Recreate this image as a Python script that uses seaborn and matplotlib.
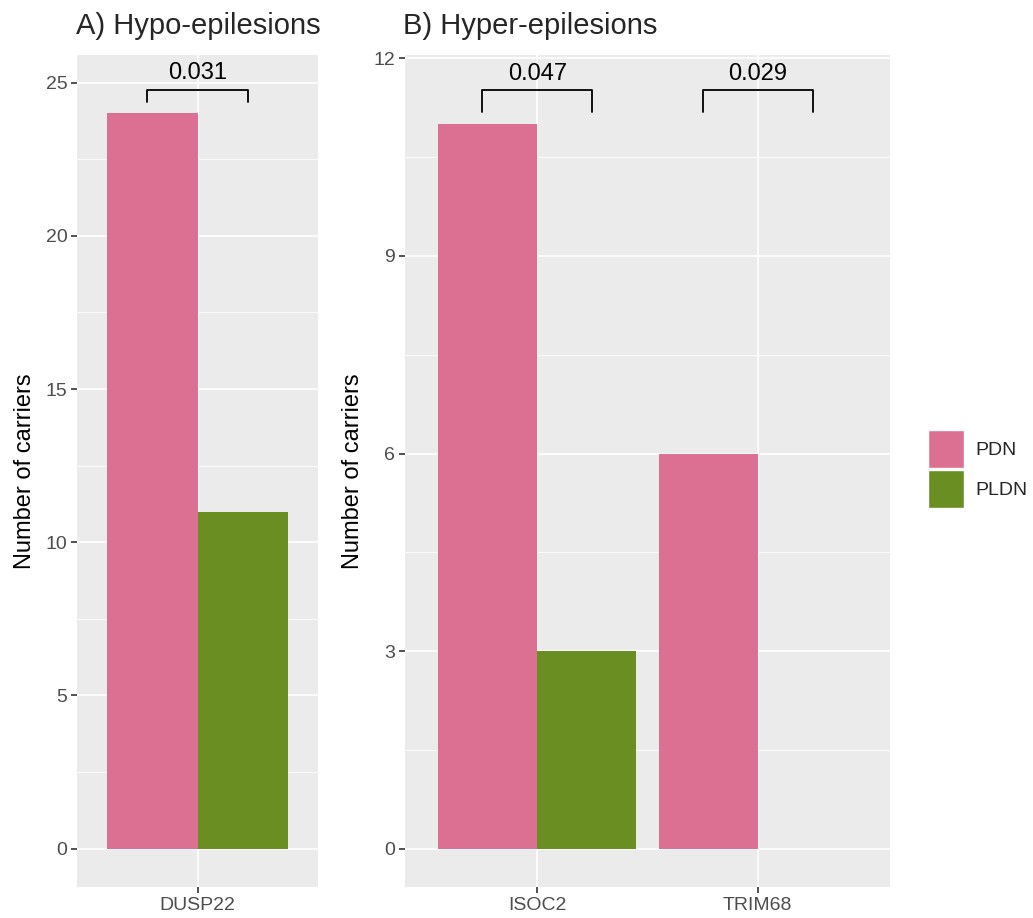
import pandas as pd
import numpy as np
import matplotlib
matplotlib.use("Agg")
import matplotlib.pyplot as plt
import seaborn as sns
from matplotlib.ticker import MultipleLocator

# ─── Data ────────────────────────────────────────────────────────────────────
groups = ["PDN", "PLDN"]
hypo_genes = ["DUSP22"]
hypo_pdn = [24]
hypo_pldn = [11]
hypo_pvals = ["0.031"]
hypo_bracket_y = [24.77]

hyper_genes = ["ISOC2", "TRIM68"]
hyper_pdn = [11, 6]
hyper_pldn = [3, 0]
hyper_pvals = ["0.047", "0.029"]
hyper_bracket_y = [11.52, 11.52]

palette = {"PDN": "#DB7093", "PLDN": "#6B8E23"}


def long_df(genes, pdn, pldn):
    return pd.DataFrame({
        "gene": genes * 2,
        "group": ["PDN"] * len(genes) + ["PLDN"] * len(genes),
        "count": pdn + pldn,
    })


# ─── Style (ggplot theme_gray look) ──────────────────────────────────────────
sns.set_theme(style="darkgrid", rc={
    "axes.facecolor": "#EBEBEB",
    "grid.color": "white",
    "grid.linewidth": 1.2,
})
plt.rcParams["font.family"] = ["Liberation Sans", "DejaVu Sans"]

fig = plt.figure(figsize=(10.33, 9.18), dpi=100)
axA = fig.add_axes([77 / 1033, 1 - 887 / 918, 241 / 1033, 832 / 918])
axB = fig.add_axes([405 / 1033, 1 - 887 / 918, 485 / 1033, 832 / 918])


def draw_panel(ax, df, genes, pvals, bracket_y, tip, text_off, ylim, ystep, title):
    sns.barplot(data=df, x="gene", y="count", hue="group", hue_order=groups,
                palette=palette, width=0.9, gap=0, saturation=1,
                linewidth=0, ax=ax, zorder=3)
    ax.set_xlim(-0.6, len(genes) - 0.4)
    ax.set_ylim(*ylim)
    ax.yaxis.set_major_locator(MultipleLocator(ystep))
    ax.yaxis.set_minor_locator(MultipleLocator(ystep / 2))
    ax.grid(which="major", color="white", linewidth=1.2, zorder=0)
    ax.grid(which="minor", axis="y", color="white", linewidth=0.6, zorder=0)
    ax.set_axisbelow(True)
    for s in ax.spines.values():
        s.set_visible(False)
    ax.tick_params(axis="both", which="major", length=4, width=1.2,
                   bottom=True, left=True, color="#333333",
                   labelcolor="#4D4D4D", labelsize=14, pad=3)
    ax.tick_params(axis="both", which="minor", length=0, bottom=False, left=False)
    ax.set_xlabel("")
    ax.set_ylabel("Number of carriers", fontsize=17, color="black", labelpad=7)
    ax.set_title(title, loc="left", fontsize=21, pad=15, x=-0.005)
    # significance brackets
    for i, (p, yb) in enumerate(zip(pvals, bracket_y)):
        x0, x1 = i - 0.25, i + 0.25
        ax.plot([x0, x0, x1, x1], [yb - tip, yb, yb, yb - tip],
                color="black", linewidth=1.3, zorder=4, clip_on=False)
        ax.text(i, yb + text_off, p, ha="center", va="bottom",
                fontsize=17, color="black")
    leg = ax.get_legend()
    if leg is not None:
        leg.remove()


draw_panel(axA, long_df(hypo_genes, hypo_pdn, hypo_pldn), hypo_genes,
           hypo_pvals, hypo_bracket_y, 0.39, 0.17, (-1.25, 25.9), 5,
           "A) Hypo-epilesions")
draw_panel(axB, long_df(hyper_genes, hyper_pdn, hyper_pldn), hyper_genes,
           hyper_pvals, hyper_bracket_y, 0.34, 0.08, (-0.58, 12.05), 3,
           "B) Hyper-epilesions")

# ─── Legend ──────────────────────────────────────────────────────────────────
handles = [plt.Rectangle((0, 0), 1, 1, facecolor=palette[g], edgecolor="white",
                         linewidth=1.0) for g in groups]
fig.legend(handles, groups, loc="center left", bbox_to_anchor=(920 / 1033, 1 - 469 / 918),
           frameon=False, fontsize=14, handlelength=1.85, handleheight=2.6,
           handletextpad=0.6, labelspacing=0.1, borderaxespad=0)

fig.savefig("out.png", dpi=100, facecolor="white")
